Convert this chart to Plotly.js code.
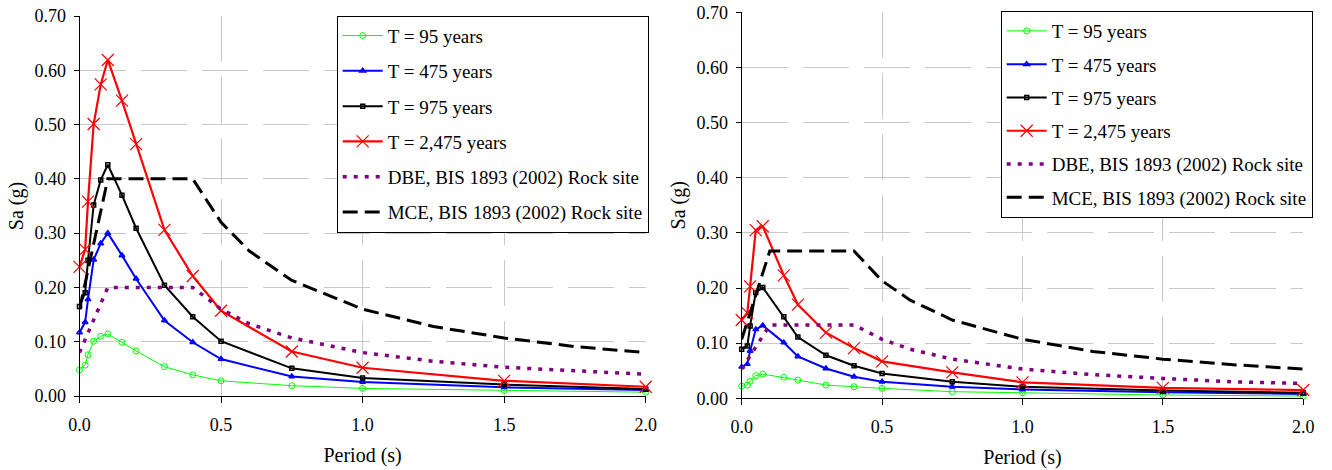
<!DOCTYPE html>
<html>
<head>
<meta charset="utf-8">
<script src="https://cdn.plot.ly/plotly-3.0.1.min.js"></script>
<style>html,body{margin:0;padding:0;background:#fff;}#chart{width:1332px;height:470px;}</style>
</head>
<body>
<div id="chart"></div>
<script>
// ---- Data ----
const seriesNames = ["T = 95 years", "T = 475 years", "T = 975 years", "T = 2,475 years",
  "DBE, BIS 1893 (2002) Rock site", "MCE, BIS 1893 (2002) Rock site"];

// Left panel
const periodsLeft = [0, 0.02, 0.03, 0.05, 0.075, 0.1, 0.15, 0.2, 0.3, 0.4, 0.5, 0.75, 1.0, 1.5, 2.0];
const left95   = [0.048, 0.057, 0.076, 0.101, 0.110, 0.114, 0.099, 0.083, 0.054, 0.039, 0.028, 0.019, 0.014, 0.010, 0.007];
const left475  = [0.117, 0.136, 0.178, 0.251, 0.281, 0.300, 0.259, 0.216, 0.139, 0.099, 0.068, 0.036, 0.026, 0.016, 0.011];
const left975  = [0.165, 0.190, 0.250, 0.352, 0.398, 0.426, 0.370, 0.309, 0.204, 0.146, 0.101, 0.051, 0.033, 0.021, 0.013];
const left2475 = [0.238, 0.270, 0.358, 0.501, 0.574, 0.619, 0.544, 0.464, 0.306, 0.221, 0.157, 0.082, 0.052, 0.028, 0.017];

// Right panel
const periodsRight = [0, 0.02, 0.03, 0.05, 0.075, 0.15, 0.2, 0.3, 0.4, 0.5, 0.75, 1.0, 1.5, 2.0];
const right95   = [0.022, 0.024, 0.031, 0.041, 0.044, 0.038, 0.033, 0.024, 0.021, 0.018, 0.012, 0.010, 0.006, 0.004];
const right475  = [0.057, 0.062, 0.086, 0.125, 0.132, 0.101, 0.076, 0.054, 0.039, 0.030, 0.021, 0.016, 0.011, 0.008];
const right975  = [0.089, 0.095, 0.131, 0.192, 0.201, 0.148, 0.111, 0.078, 0.059, 0.045, 0.030, 0.021, 0.014, 0.010];
const right2475 = [0.142, 0.155, 0.203, 0.305, 0.312, 0.223, 0.170, 0.119, 0.091, 0.067, 0.047, 0.029, 0.019, 0.015];

// Code spectra (BIS 1893, rock site)
const periodsCode = [0, 0.1, 0.4, 0.5, 0.6, 0.75, 1.0, 1.25, 1.5, 1.75, 2.0];
const leftDBE  = [0.080, 0.200, 0.200, 0.160, 0.133, 0.107, 0.080, 0.064, 0.053, 0.046, 0.040];
const leftMCE  = [0.160, 0.400, 0.400, 0.320, 0.267, 0.213, 0.160, 0.128, 0.107, 0.091, 0.080];
const rightDBE = [0.053, 0.133, 0.133, 0.107, 0.089, 0.071, 0.053, 0.043, 0.036, 0.030, 0.027];
const rightMCE = [0.107, 0.267, 0.267, 0.213, 0.178, 0.142, 0.107, 0.085, 0.071, 0.061, 0.053];

const yTickVals = [0, 0.1, 0.2, 0.3, 0.4, 0.5, 0.6, 0.7];
const xTickVals = [0, 0.5, 1.0, 1.5, 2.0];

// ---- Styles ----
const styles = [
  {line: {color: '#00ff00', width: 1}, marker: {symbol: 'circle-open', size: 6, color: '#00ff00', line: {width: 1}}, mode: 'lines+markers'},
  {line: {color: '#0000ff', width: 2}, marker: {symbol: 'triangle-up-open', size: 5, color: '#0000ff', line: {width: 1.5}}, mode: 'lines+markers'},
  {line: {color: '#000000', width: 2}, marker: {symbol: 'square-open', size: 4, color: '#000000', line: {width: 1.5}}, mode: 'lines+markers'},
  {line: {color: '#ff0000', width: 2.2}, marker: {symbol: 'x-thin-open', size: 12, color: '#ff0000', line: {width: 1.2, color: '#ff0000'}}, mode: 'lines+markers'},
  {line: {color: '#800080', width: 3.5, dash: '4px,7px'}, mode: 'lines'},
  {line: {color: '#000000', width: 3, dash: '15px,7px'}, mode: 'lines'}
];

function mk(i, x, y, xa, ya, leg, grp) {
  const s = styles[i];
  const t = {x: x, y: y, name: seriesNames[i], type: 'scatter', mode: s.mode,
    line: s.line, xaxis: xa, yaxis: ya, legend: leg, legendgroup: grp + i, cliponaxis: false};
  if (s.marker) t.marker = s.marker;
  return t;
}

const traces = [
  mk(0, periodsLeft, left95, 'x', 'y', 'legend', 'L'),
  mk(1, periodsLeft, left475, 'x', 'y', 'legend', 'L'),
  mk(2, periodsLeft, left975, 'x', 'y', 'legend', 'L'),
  mk(3, periodsLeft, left2475, 'x', 'y', 'legend', 'L'),
  mk(4, periodsCode, leftDBE, 'x', 'y', 'legend', 'L'),
  mk(5, periodsCode, leftMCE, 'x', 'y', 'legend', 'L'),
  mk(0, periodsRight, right95, 'x2', 'y2', 'legend2', 'R'),
  mk(1, periodsRight, right475, 'x2', 'y2', 'legend2', 'R'),
  mk(2, periodsRight, right975, 'x2', 'y2', 'legend2', 'R'),
  mk(3, periodsRight, right2475, 'x2', 'y2', 'legend2', 'R'),
  mk(4, periodsCode, rightDBE, 'x2', 'y2', 'legend2', 'R'),
  mk(5, periodsCode, rightMCE, 'x2', 'y2', 'legend2', 'R')
];

const FONT = "'Liberation Serif', 'Times New Roman', serif";
function xax(domain, anchor) {
  return {domain: domain, anchor: anchor, range: [0, 2], tickvals: xTickVals, tickformat: '.1f',
    showline: true, linecolor: '#000', linewidth: 1, ticks: 'outside', ticklen: 6, tickcolor: '#000',
    showgrid: true, gridcolor: '#c8c8c8', gridwidth: 1, griddash: '46px,15px', zeroline: false,
    tickfont: {family: FONT, size: 18, color: '#000'}, ticklabelstandoff: 6,
    title: {text: 'Period (s)', font: {family: FONT, size: 20, color: '#000'}, standoff: 14}};
}
function yax(domain, anchor) {
  return {domain: domain, anchor: anchor, range: [0, 0.7], tickvals: yTickVals, tickformat: '.2f',
    showline: true, linecolor: '#000', linewidth: 1, ticks: 'outside', ticklen: 5, tickcolor: '#000',
    showgrid: true, gridcolor: '#c8c8c8', gridwidth: 1, griddash: '46px,15px', zeroline: false,
    tickfont: {family: FONT, size: 18, color: '#000'}, ticklabelstandoff: 4,
    title: {text: 'Sa (g)', font: {family: FONT, size: 20, color: '#000'}, standoff: 5}};
}
function leg(x, y, gap) {
  return {x: x, y: y, xanchor: 'left', yanchor: 'top', xref: 'paper', yref: 'paper',
    bgcolor: '#ffffff', bordercolor: '#000', borderwidth: 1, itemwidth: 40,
    font: {family: FONT, size: 19, color: '#000'}, traceorder: 'grouped', tracegroupgap: gap};
}

const layout = {
  width: 1332, height: 470,
  margin: {l: 0, r: 0, t: 0, b: 0},
  paper_bgcolor: '#ffffff', plot_bgcolor: '#ffffff',
  font: {family: FONT, size: 18, color: '#000'},
  xaxis: xax([79.5 / 1332, 645.7 / 1332], 'y'),
  yaxis: yax([1 - 396 / 470, 1 - 16 / 470], 'x'),
  xaxis2: xax([741.7 / 1332, 1303.3 / 1332], 'y2'),
  yaxis2: yax([1 - 398.3 / 470, 1 - 12.3 / 470], 'x2'),
  legend: leg(336.7 / 1332, 1 - 15.7 / 470, 7.6),
  legend2: leg(1000.7 / 1332, 1 - 11 / 470, 5.6),
  showlegend: true
};

Plotly.newPlot('chart', traces, layout, {displayModeBar: false, staticPlot: true});
</script>
</body>
</html>
